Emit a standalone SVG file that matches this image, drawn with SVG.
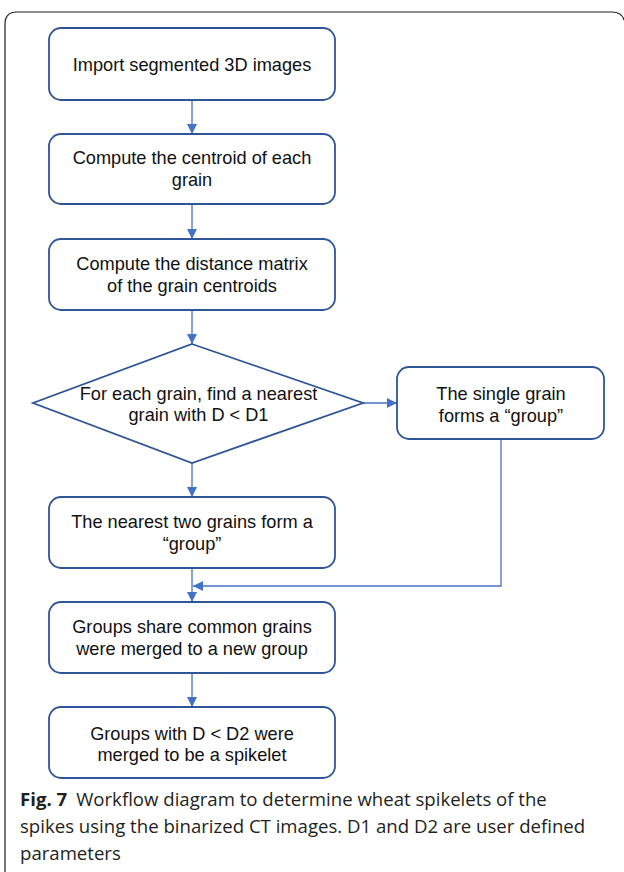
<svg xmlns="http://www.w3.org/2000/svg" width="624" height="872" viewBox="0 0 624 872">
<defs>
<style>
.box{fill:#fff;stroke:#2f5597;stroke-width:1.8}
.t{font-family:"Liberation Sans",Arial,sans-serif;font-size:18.2px;fill:#111;text-anchor:middle}
.c{fill:none;stroke:#4472c4;stroke-width:1.3}
.cap{font-family:"Open Sans","Noto Sans",sans-serif;font-size:18.6px;fill:#231f20}
</style>
<marker id="ah" viewBox="0 0 10 10" refX="10" refY="5" markerWidth="10" markerHeight="10" markerUnits="userSpaceOnUse" orient="auto">
<path d="M0,0 L10,5 L0,10 z" fill="#4472c4"/>
</marker>
</defs>
<path d="M5,872 L5,24 Q5,12 17,12 L612,12 Q622,12 624,20" fill="none" stroke="#231f20" stroke-width="1.2"/>
<g id="connectors">
<line class="c" x1="192" y1="100" x2="192" y2="134" marker-end="url(#ah)"/>
<line class="c" x1="192" y1="204" x2="192" y2="239" marker-end="url(#ah)"/>
<line class="c" x1="192" y1="310" x2="192" y2="344" marker-end="url(#ah)"/>
<line class="c" x1="363" y1="403" x2="397" y2="403" marker-end="url(#ah)"/>
<line class="c" x1="192" y1="463" x2="192" y2="497" marker-end="url(#ah)"/>
<line class="c" x1="192" y1="568" x2="192" y2="602" marker-end="url(#ah)"/>
<polyline class="c" points="501,439 501,586 193,586" marker-end="url(#ah)"/>
<line class="c" x1="192" y1="673" x2="192" y2="707" marker-end="url(#ah)"/>
</g>
<g id="n1"><rect class="box" x="49" y="28" width="286" height="72" rx="12"/><text class="t" x="192" y="71">Import segmented 3D images</text></g>
<g id="n2"><rect class="box" x="49" y="134" width="286" height="70" rx="12"/><text class="t" x="192" y="164">Compute the centroid of each</text><text class="t" x="192" y="186">grain</text></g>
<g id="n3"><rect class="box" x="49" y="239" width="286" height="71" rx="12"/><text class="t" x="192" y="270">Compute the distance matrix</text><text class="t" x="192" y="292">of the grain centroids</text></g>
<g id="n4"><polygon class="box" points="192,344 363,403 192,463 33,403"/><text class="t" x="198.5" y="400">For each grain, find a nearest</text><text class="t" x="198.5" y="421">grain with D &lt; D1</text></g>
<g id="n5"><rect class="box" x="397" y="367" width="207" height="72" rx="12"/><text class="t" x="501" y="400">The single grain</text><text class="t" x="501" y="422">forms a “group”</text></g>
<g id="n6"><rect class="box" x="49" y="497" width="286" height="71" rx="12"/><text class="t" x="192" y="528">The nearest two grains form a</text><text class="t" x="192" y="550">“group”</text></g>
<g id="n7"><rect class="box" x="49" y="602" width="286" height="71" rx="12"/><text class="t" x="192" y="633">Groups share common grains</text><text class="t" x="192" y="655">were merged to a new group</text></g>
<g id="n8"><rect class="box" x="49" y="707" width="286" height="71" rx="12"/><text class="t" x="192" y="740">Groups with D &lt; D2 were</text><text class="t" x="192" y="761">merged to be a spikelet</text></g>
<text class="cap" x="20" y="806"><tspan font-weight="bold">Fig. 7</tspan><tspan dx="9">Workflow diagram to determine wheat spikelets of the</tspan></text>
<text class="cap" x="20" y="833">spikes using the binarized CT images. D1 and D2 are user defined</text>
<text class="cap" x="20" y="860">parameters</text>
</svg>
